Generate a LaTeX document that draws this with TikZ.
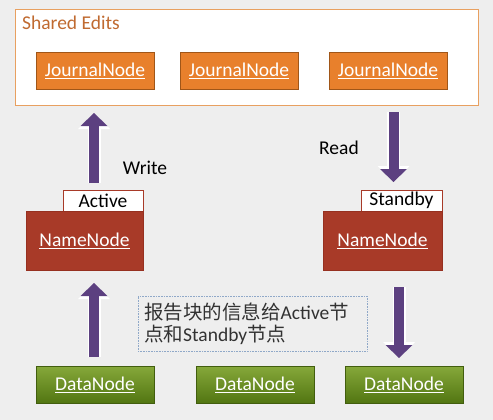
\documentclass[tikz,border=0pt]{standalone}
\usepackage{fontspec}
\setmainfont{Carlito}
\newfontfamily\cjk{Noto Sans CJK SC}
\usetikzlibrary{arrows.meta}
\definecolor{bgc}{RGB}{238,238,238}
\definecolor{jnfill}{RGB}{232,128,44}
\definecolor{jnline}{RGB}{160,86,24}
\definecolor{sharedline}{RGB}{232,160,96}
\definecolor{sharedtext}{RGB}{192,106,48}
\definecolor{nnfill}{RGB}{168,58,40}
\definecolor{nnline}{RGB}{150,48,32}
\definecolor{dntop}{RGB}{134,168,58}
\definecolor{dnbot}{RGB}{82,118,18}
\definecolor{arrowc}{RGB}{92,64,128}
\definecolor{noteline}{RGB}{143,168,200}
\definecolor{notetext}{RGB}{50,50,50}
\tikzset{
  txt/.style={font=\fontsize{19.5}{22}\selectfont},
  jnbox/.style={txt, draw=jnline, line width=0.8pt, fill=jnfill, text=white, minimum width=118pt, minimum height=37pt, inner sep=0pt},
  nnbox/.style={txt, draw=nnline, line width=0.6pt, fill=nnfill, text=white, minimum height=59pt, inner sep=0pt},
  tagbox/.style={txt, draw=nnfill, line width=0.8pt, fill=white, text=black, minimum height=21pt, inner sep=0pt},
  dnbox/.style={txt, draw=dnbot!80!black, line width=0.5pt, top color=dntop, bottom color=dnbot, text=white, minimum width=118pt, minimum height=37pt, inner sep=0pt},
  bigarrow/.style={line width=10pt, draw=arrowc, -{Triangle[width=27pt,length=13pt,line width=0pt]},
    preaction={draw=white, line width=13pt, -{Triangle[width=32pt,length=16pt,line width=0pt]}}},
  lbl/.style={txt, text=black, inner sep=0pt}
}
\begin{document}
\begin{tikzpicture}[x=1pt,y=-1pt]
\fill[bgc] (0,0) rectangle (493,420);
\useasboundingbox (0,0) rectangle (493,420);

% Shared edits
\node[draw=sharedline, line width=0.8pt, fill=white, minimum width=463pt, minimum height=96pt, inner sep=0pt] (shared) at (246.5,57.5) {};
\node[txt, text=sharedtext, anchor=west, inner sep=0pt] (sharedlbl) at (22,23) {Shared Edits};
\node[jnbox] (jn1) at (95,70.5) {\underline{JournalNode}};
\node[jnbox] (jn2) at (239,70.5) {\underline{JournalNode}};
\node[jnbox] (jn3) at (388,70.5) {\underline{JournalNode}};

% NameNodes
\node[tagbox, minimum width=80pt] (act) at (103,200.5) {Active};
\node[nnbox, minimum width=117pt] (nn1) at (84.5,240.5) {\underline{NameNode}};
\node[tagbox, minimum width=81pt] (stb) at (401.5,200.5) {Standby};
\node[nnbox, minimum width=119pt] (nn2) at (382.5,240.5) {\underline{NameNode}};

% labels
\node[lbl] (write) at (145,168) {Write};
\node[lbl] (read) at (339,148) {Read};

% note
\node[draw=noteline, densely dotted, line width=0.6pt, minimum width=229pt, minimum height=55pt, inner sep=0pt] (note) at (252.5,323.5) {};
\node[txt, text=notetext, anchor=west, align=left, inner sep=0pt] (notetxt) at (144,324)
  {{\cjk 报告块的信息给}Active{\cjk 节}\\{\cjk 点和}Standby{\cjk 节点}};

% DataNodes
\node[dnbox] (dn1) at (95,384.5) {\underline{DataNode}};
\node[dnbox] (dn2) at (255,384.5) {\underline{DataNode}};
\node[dnbox] (dn3) at (404,384.5) {\underline{DataNode}};

% arrow end points
\coordinate (w0) at (94,183);
\coordinate (w1) at (94,113);
\coordinate (r0) at (393.5,112);
\coordinate (r1) at (393.5,182);
\coordinate (b0) at (94,357);
\coordinate (b1) at (94,283);
\coordinate (c0) at (399,287);
\coordinate (c1) at (399,358);

\draw[bigarrow] (w0) -- (w1);
\draw[bigarrow] (r0) -- (r1);
\draw[bigarrow] (b0) -- (b1);
\draw[bigarrow] (c0) -- (c1);
\end{tikzpicture}
\end{document}
